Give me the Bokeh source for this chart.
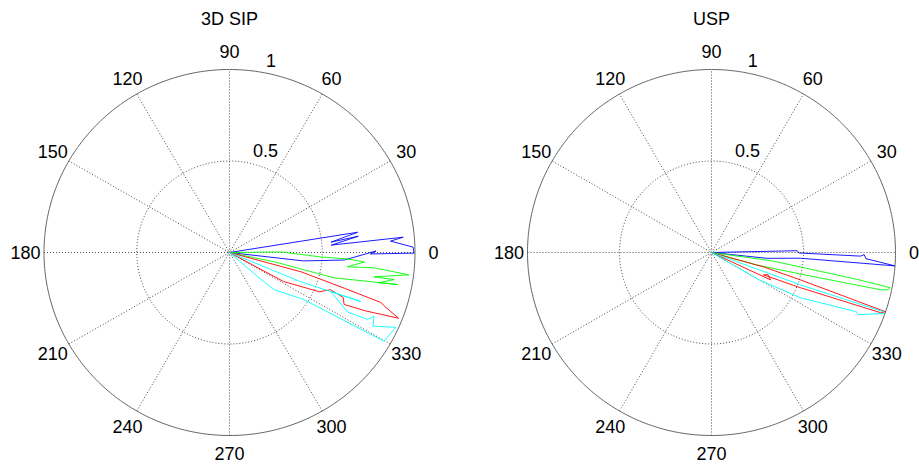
import numpy as np
from bokeh.plotting import figure
from bokeh.layouts import row
from bokeh.models import Range1d
from bokeh.embed import file_html
from bokeh.resources import INLINE
from bokeh.core.properties import value

# ---------------- data ----------------
panel_titles = ["3D SIP", "USP"]
angle_ticks = [0, 30, 60, 90, 120, 150, 180, 210, 240, 270, 300, 330]
angle_tick_labels = [str(a) for a in angle_ticks]
radial_ticks = [0.5, 1.0]
radial_tick_labels = ["0.5", "1"]

# 3D SIP panel (theta in degrees, normalized radius)
sip_blue_theta = [0, 9.1, 5.9, 7.3, 4.2, 5.1, 4.1, 1.7, -0.2, -0.6, 0.6, -3.8, -6.6, 0]
sip_blue_r = [0, 0.70, 0.55, 0.70, 0.55, 0.94, 0.87, 0.99, 0.995, 0.76, 0.79, 0.62, 0.40, 0]

sip_green_theta = [0, 0.6, -2.8, -3.2, -4.1, -7.0, -6.1, -7.2, -9.7, -9.5, -11.6, -10.9, -13.8, -12.0, 0]
sip_green_r = [0, 0.28, 0.49, 0.64, 0.73, 0.64, 0.78, 0.975, 0.79, 0.90, 0.82, 0.925, 0.58, 0.25, 0]

sip_red_theta = [0, -15.3, -17.5, -18.5, -19.6, -21.5, -23.5, -24.7, -21.8, -20.5, -23.9, -28.6, 0]
sip_red_r = [0, 0.40, 0.65, 0.86, 0.895, 0.98, 0.80, 0.68, 0.66, 0.58, 0.53, 0.33, 0]

sip_cyan_theta = [0, -22.6, -20.7, -21.4, -27.1, -26.1, -24.1, -27.5, -24.5, -30.2, -32.7, -40.4, -41.0, 0]
sip_cyan_r = [0, 0.415, 0.757, 0.586, 0.717, 0.83, 0.853, 0.872, 0.986, 0.963, 0.475, 0.312, 0.20, 0]

# USP panel
usp_blue_theta = [0, 1.2, -0.3, -1.4, -0.8, -2.3, -4.2, -3.7, -6.0, 0]
usp_blue_r = [0, 0.466, 0.475, 0.81, 0.83, 0.84, 1.0, 0.485, 0.304, 0]

usp_green_theta = [0, -7.9, -9.3, -10.5, -11.2, -12.0, -12.5, -13.7, -15.5, 0]
usp_green_r = [0, 0.335, 0.49, 0.80, 0.99, 0.98, 0.94, 0.50, 0.25, 0]

usp_red_theta = [0, -15.6, -17.2, -18.9, -19.7, -21.7, -23.4, -21.5, -25.0, 0]
usp_red_r = [0, 0.30, 0.506, 1.0, 0.976, 0.521, 0.308, 0.33, 0.354, 0]

usp_cyan_theta = [0, -20.1, -19.1, -19.6, -23.0, -22.4, -27.1, -30.0, 0]
usp_cyan_r = [0, 0.515, 0.989, 0.995, 0.868, 0.847, 0.543, 0.30, 0]

series_colors = ["#0000ff", "#00ff00", "#ff0000", "#00ffff"]

sip_series = [(sip_blue_theta, sip_blue_r), (sip_green_theta, sip_green_r),
              (sip_red_theta, sip_red_r), (sip_cyan_theta, sip_cyan_r)]
usp_series = [(usp_blue_theta, usp_blue_r), (usp_green_theta, usp_green_r),
              (usp_red_theta, usp_red_r), (usp_cyan_theta, usp_cyan_r)]

FONT = "Liberation Sans"
FS = "18px"


def make_panel(title, series, width, height, cx_px, cy_px, sx, sy):
    p = figure(width=width, height=height,
               x_range=Range1d(-cx_px / sx, (width - cx_px) / sx),
               y_range=Range1d(-(height - cy_px) / sy, cy_px / sy),
               output_backend="svg", toolbar_location=None, min_border=0,
               x_axis_location=None, y_axis_location=None)
    p.grid.visible = False
    p.outline_line_color = None
    p.background_fill_color = "white"
    p.border_fill_color = "white"

    # spokes
    for a in angle_ticks[:6]:
        t = np.radians(a)
        p.line([-np.cos(t), np.cos(t)], [-np.sin(t), np.sin(t)],
               line_color="#333333", line_dash="1 2", line_width=0.9)
    phi = np.linspace(0, 2 * np.pi, 361)
    # inner circle(s)
    for rt in radial_ticks[:-1]:
        p.line(rt * np.cos(phi), rt * np.sin(phi),
               line_color="#333333", line_dash="1 2", line_width=0.9)

    # data lines
    for (th, r), c in zip(series, series_colors):
        th = np.radians(np.array(th, dtype=float))
        r = np.array(r, dtype=float)
        p.line(r * np.cos(th), r * np.sin(th), line_color=c, line_width=0.9)

    # outer circle
    rmax = radial_ticks[-1]
    p.line(rmax * np.cos(phi), rmax * np.sin(phi), line_color="#666666", line_width=1)

    # angle labels
    at = np.radians(np.array(angle_ticks, dtype=float))
    p.text(x=1.1 * rmax * np.cos(at), y=1.1 * rmax * np.sin(at), text=angle_tick_labels,
           text_align="center", text_baseline="middle",
           text_font=value(FONT), text_font_size=FS, text_color="black")

    # radial labels
    a82 = np.radians(82)
    rr = np.array(radial_ticks) + 0.025
    p.text(x=rr * np.cos(a82), y=rr * np.sin(a82), text=radial_tick_labels,
           text_align="left", text_baseline="bottom", x_offset=10,
           text_font=value(FONT), text_font_size=FS, text_color="black")

    # title
    p.text(x=[0], y=[(cy_px - 18.5) / sy], text=[title],
           text_align="center", text_baseline="middle",
           text_font=value(FONT), text_font_size=FS, text_color="black")
    return p


H = 466
p1 = make_panel(panel_titles[0], sip_series, 459, H, 229, 252, 185.5, 183)
p2 = make_panel(panel_titles[1], usp_series, 460, H, 252, 252, 184, 183)

layout = row(p1, p2)
open("out.html", "w").write(file_html(layout, INLINE))
